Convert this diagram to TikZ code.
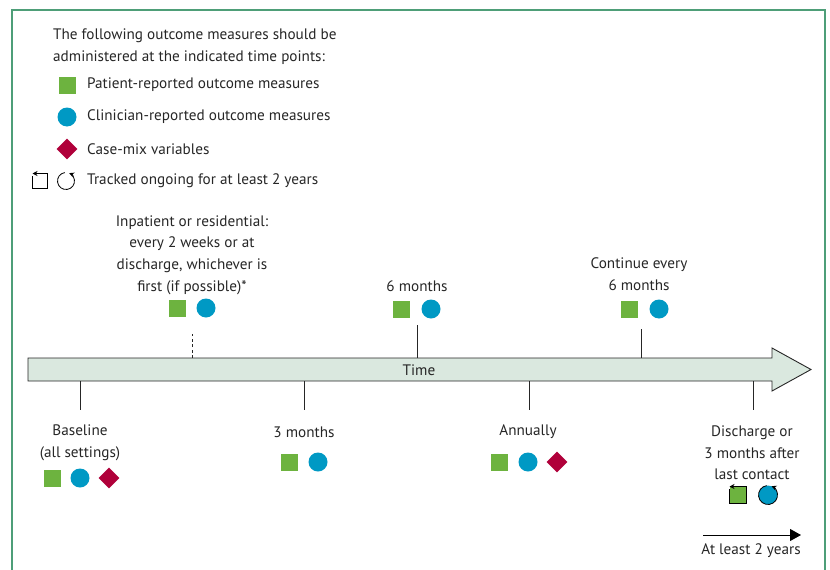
\documentclass[tikz,border=0pt]{standalone}
\usepackage{fontspec}
\setmainfont{PT Sans}
\usetikzlibrary{shapes.geometric,arrows.meta}
\definecolor{pgreen}{HTML}{6DB33F}
\definecolor{pblue}{HTML}{0099C4}
\definecolor{pred}{HTML}{B0003A}
\definecolor{bgreen}{HTML}{4E9E78}
\definecolor{afill}{HTML}{DAE8DF}
\definecolor{tgrey}{HTML}{262626}
\tikzset{
  lbl/.style={text=tgrey, font=\fontsize{15.2}{21.7}\selectfont, align=center, inner sep=0},
  lgd/.style={text=tgrey, font=\fontsize{15.2}{21.7}\selectfont, anchor=west, inner sep=0},
  sq/.style={rectangle, minimum size=17, inner sep=0, fill=pgreen},
  ci/.style={circle, minimum size=19, inner sep=0, fill=pblue},
  di/.style={diamond, minimum width=21, minimum height=21, inner sep=0, fill=pred},
  tick/.style={draw=tgrey, line width=0.8},
  trk/.style={draw=black, line width=0.8, -{Stealth[length=5,width=5]}},
}
\begin{document}
\begin{tikzpicture}[x=1pt,y=-1pt]
\useasboundingbox (0,0) rectangle (830,570);
% frame
\draw[bgreen, line width=1.5] (12,570) -- (12,10) -- (825,10) -- (825,570);

% legend
\node[lgd] (l0) at (53,36) {The following outcome measures should be};
\node[lgd] (l1) at (53,58) {administered at the indicated time points:};
\node[sq] (lsq) at (67,85) {};
\node[lgd] (lt1) at (87,85) {Patient-reported outcome measures};
\node[ci] (lci) at (67,117) {};
\node[lgd] (lt2) at (87,117) {Clinician-reported outcome measures};
\node[di] (ldi) at (67,149) {};
\node[lgd] (lt3) at (87,149) {Case-mix variables};
% tracked icons
\draw[trk] (32.5,176) -- (32.5,188.5) -- (47.5,188.5) -- (47.5,173.5) -- (32.5,173.5);
\draw[trk] (66,181) ++(262:8.5) arc[start angle=262, end angle=-68, radius=8.5];
\node[lgd] (lt4) at (87,181) {Tracked ongoing for at least 2 years};

% timeline arrow
\draw[draw=tgrey, fill=afill, line width=0.9] (28,358) -- (772,358) -- (772,348) -- (811,369.5) -- (772,391) -- (772,381) -- (28,381) -- cycle;
\node[lbl] (time) at (419,370) {Time};

% ticks above
\coordinate (a1) at (192,358); \coordinate (a1t) at (192,334);
\coordinate (a2) at (417,358); \coordinate (a2t) at (417,325);
\coordinate (a3) at (641,358); \coordinate (a3t) at (641,329);
\draw[tick, dashed, dash pattern=on 3pt off 2.5pt] (a1) -- (a1t);
\draw[tick] (a2) -- (a2t);
\draw[tick] (a3) -- (a3t);
% ticks below
\coordinate (b1) at (80,381);  \coordinate (b1t) at (80,410);
\coordinate (b2) at (304,381); \coordinate (b2t) at (304,410);
\coordinate (b3) at (529,381); \coordinate (b3t) at (529,410);
\coordinate (b4) at (753,381); \coordinate (b4t) at (753,410);
\draw[tick] (b1) -- (b1t);
\draw[tick] (b2) -- (b2t);
\draw[tick] (b3) -- (b3t);
\draw[tick] (b4) -- (b4t);

% above labels
\node[lbl] (inp) at (192,255) {Inpatient or residential:\\every 2 weeks or at\\discharge, whichever is\\first (if possible)*};
\node[sq] at (177,308) {};
\node[ci] at (206,308) {};
\node[lbl] (m6) at (417,286) {6 months};
\node[sq] at (401,309) {};
\node[ci] at (431,309) {};
\node[lbl] (cont) at (639,274) {Continue every\\6 months};
\node[sq] at (629,309) {};
\node[ci] at (659,309) {};

% below labels
\node[lbl] (base) at (80,442.5) {Baseline\\(all settings)};
\node[sq] at (52,478) {};
\node[ci] at (80,478) {};
\node[di] at (109,478) {};
\node[lbl] (m3) at (304,432) {3 months};
\node[sq] at (289,462) {};
\node[ci] at (318,462) {};
\node[lbl] (ann) at (528,432) {Annually};
\node[sq] at (499,462) {};
\node[ci] at (528,462) {};
\node[di] at (557,462) {};
\node[lbl] (dis) at (752,453) {Discharge or\\3 months after\\last contact};
% discharge tracked markers
\fill[pgreen] (729.5,486.5) rectangle (746.5,503.5);
\draw[trk] (729.5,489) -- (729.5,503.5) -- (746.5,503.5) -- (746.5,486.5) -- (729.5,486.5);
\fill[pblue] (768,495) circle[radius=9.5];
\draw[trk] (768,495) ++(262:9.5) arc[start angle=262, end angle=-68, radius=9.5];

% at least 2 years
\coordinate (p1) at (703,535);
\coordinate (p2) at (801,535);
\draw[black, line width=1, -{Triangle[length=11,width=12]}] (p1) -- (p2);
\node[lbl] (two) at (751,551) {At least 2 years};
\end{tikzpicture}
\end{document}
